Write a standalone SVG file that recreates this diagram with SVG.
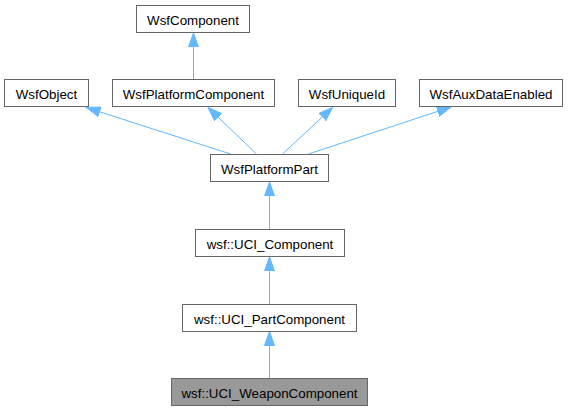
<svg xmlns="http://www.w3.org/2000/svg" width="568" height="411" viewBox="0 0 568 411">
<style>
.node rect{fill:#ffffff;stroke:#666666;stroke-width:1}
.node.cur rect{fill:#999999}
.node text{font-family:"Liberation Sans",Arial,sans-serif;font-size:13.33px;fill:#000000;text-anchor:middle}
.edge{fill:none;stroke:#63b8ff;stroke-width:1;marker-end:url(#arr)}
</style>
<defs>
<marker id="arr" markerUnits="userSpaceOnUse" markerWidth="15" markerHeight="11" refX="14" refY="5.5" orient="auto">
<path d="M0,0.5 L14,5.5 L0,10.5 Z" fill="#63b8ff" stroke="#63b8ff" stroke-width="1"/>
</marker>
</defs>
<rect width="568" height="411" fill="#ffffff"/>
<g id="connectors">
<path class="edge" d="M193.5,79 L193.5,33"/>
<path class="edge" d="M230.5,154 L86.5,107.5"/>
<path class="edge" d="M256.5,154 L208,107.5"/>
<path class="edge" d="M282.5,154 L332.5,107.5"/>
<path class="edge" d="M308.5,154 L451,107"/>
<path class="edge" d="M269.5,229 L269.5,182"/>
<path class="edge" d="M269.5,304 L269.5,257"/>
<path class="edge" d="M269.5,378 L269.5,331.5"/>
</g>
<g id="WsfComponent" class="node"><rect x="136.5" y="5.5" width="113" height="27"/><text x="193" y="24.5">WsfComponent</text></g>
<g id="WsfObject" class="node"><rect x="4.5" y="79.5" width="84" height="27"/><text x="46.5" y="98.5">WsfObject</text></g>
<g id="WsfPlatformComponent" class="node"><rect x="112.5" y="79.5" width="162" height="27"/><text x="193.5" y="98.5">WsfPlatformComponent</text></g>
<g id="WsfUniqueId" class="node"><rect x="298.5" y="79.5" width="97" height="27"/><text x="347" y="98.5">WsfUniqueId</text></g>
<g id="WsfAuxDataEnabled" class="node"><rect x="419.5" y="79.5" width="143" height="27"/><text x="491" y="98.5">WsfAuxDataEnabled</text></g>
<g id="WsfPlatformPart" class="node"><rect x="210.5" y="154.5" width="118" height="27"/><text x="269.5" y="173.5">WsfPlatformPart</text></g>
<g id="UCI_Component" class="node"><rect x="195.5" y="229.5" width="149" height="27"/><text x="270" y="248.5">wsf::UCI_Component</text></g>
<g id="UCI_PartComponent" class="node"><rect x="182.5" y="304.5" width="174" height="27"/><text x="269.5" y="323.5">wsf::UCI_PartComponent</text></g>
<g id="UCI_WeaponComponent" class="node cur"><rect x="171.5" y="378.5" width="196" height="27"/><text x="269.5" y="397.5">wsf::UCI_WeaponComponent</text></g>
</svg>
